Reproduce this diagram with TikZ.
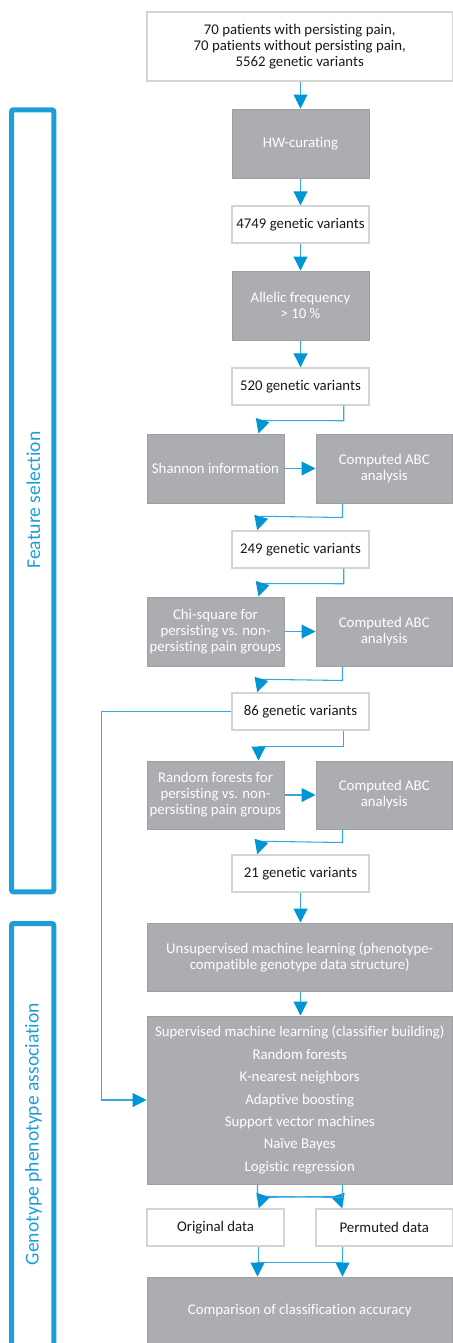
\documentclass[tikz,border=0pt]{standalone}
\usepackage{fontspec}
\setmainfont{Carlito}[Ligatures=NoCommon]
\usetikzlibrary{calc,arrows.meta}
\definecolor{bracketblue}{RGB}{30,158,216}
\definecolor{arrowblue}{RGB}{0,150,214}
\definecolor{lineblue}{RGB}{50,170,225}
\definecolor{boxgray}{RGB}{172,173,176}
\definecolor{boxgrayedge}{RGB}{158,159,162}
\definecolor{wedge}{RGB}{212,212,212}
\definecolor{txt}{RGB}{25,25,25}
\begin{document}
\begin{tikzpicture}[x=0.75pt,y=-0.75pt,
  sz/.style 2 args={minimum width=#1*0.75pt, minimum height=#2*0.75pt},
  wbox/.style={fill=white, draw=wedge, line width=1.1pt, text=txt, inner sep=0pt, align=center, font=\fontsize{11.1}{12}\selectfont},
  gbox/.style={fill=boxgray, draw=boxgrayedge, line width=0.75pt, text=white, inner sep=0pt, align=center, font=\fontsize{11.1}{12}\selectfont},
  conn/.style={draw=lineblue, line width=0.8pt, -{Triangle[length=10.5pt,width=10.5pt,color=arrowblue]}},
  sidelabel/.style={rotate=90, text=bracketblue, inner sep=0pt, font=\fontsize{14.7}{16}\selectfont},
  brk/.style={draw=bracketblue, line width=3.75pt, rounded corners=1.5pt}]
\path[use as bounding box] (0,0) rectangle (453,1343);
\clip (0,0) rectangle (453,1343);
\fill[white] (0,0) rectangle (453,1343);

% brackets and side labels
\draw[brk] (11.5,109.8) rectangle (53.8,891.8);
\draw[brk] (11.5,923.5) rectangle (53.8,1380);
\node[sidelabel] (fs) at (33.4,500) {Feature selection};
\node[sidelabel] (gpa) at (33.4,1134) {Genotype phenotype association};

% boxes
\node[wbox, sz={305.5}{69}] (top) at (299.75,46.5) {70 patients with persisting pain,\\70 patients without persisting pain,\\5562 genetic variants};
\node[gbox, sz={137}{69}] (hw) at (300.5,143.5) {HW-curating};
\node[wbox, sz={137}{37}] (v4749) at (300.5,224.5) {4749 genetic variants};
\node[gbox, sz={137}{69}] (allelic) at (300.5,305.5) {Allelic frequency\\> 10 \%};
\node[wbox, sz={137}{37}] (v520) at (300.5,386.5) {520 genetic variants};
\node[gbox, sz={137}{69}] (shannon) at (215.5,468.5) {Shannon information};
\node[gbox, sz={136.5}{69}] (abc1) at (384.25,468.5) {Computed ABC\\analysis};
\node[wbox, sz={137}{37}] (v249) at (300.5,549.5) {249 genetic variants};
\node[gbox, sz={137}{69}] (chi) at (215.5,631.5) {Chi-square for\\persisting vs. non-\\persisting pain groups};
\node[gbox, sz={136.5}{69}] (abc2) at (384.25,631.5) {Computed ABC\\analysis};
\node[wbox, sz={137}{37}] (v86) at (300.5,711.5) {86 genetic variants};
\node[gbox, sz={137}{68}] (rf) at (215.5,795) {Random forests for\\persisting vs. non-\\persisting pain groups};
\node[gbox, sz={136.5}{68}] (abc3) at (384.25,795) {Computed ABC\\analysis};
\node[wbox, sz={137}{37}] (v21) at (300.5,873.5) {21 genetic variants};
\node[gbox, sz={305.5}{68}] (unsup) at (299.75,957) {Unsupervised machine learning (phenotype-\\compatible genotype data structure)};
\node[gbox, sz={305.5}{168}, font=\fontsize{11.1}{16.8}\selectfont] (sup) at (299.75,1100) {Supervised machine learning (classifier building)\\Random forests\\K-nearest neighbors\\Adaptive boosting\\Support vector machines\\Naïve Bayes\\Logistic regression};
\node[wbox, sz={137}{37}] (orig) at (215.5,1227.5) {Original data};
\node[wbox, sz={136.5}{37}] (perm) at (384.25,1227.5) {Permuted data};
\node[gbox, sz={305.5}{68}] (comp) at (299.75,1311) {Comparison of classification accuracy};

% connectors
\draw[conn] (top.south -| hw.north) -- (hw.north);
\draw[conn] (hw.south) -- (v4749.north);
\draw[conn] (v4749.south) -- (allelic.north);
\draw[conn] (allelic.south) -- (v520.north);
\draw[conn] ($(v520.south east)+(-26,0)$) -- ++(0,15) -- ($(shannon.north east)+(-22,-13)$) -- ($(shannon.north east)+(-26,0)$);
\draw[conn] (shannon.east) -- (abc1.west);
\draw[conn] ($(abc1.south west)+(27,0)$) -- ++(0,14) -- ($(v249.north west)+(30,-14)$) -- ($(v249.north west)+(26,0)$);
\draw[conn] ($(v249.south east)+(-26,0)$) -- ++(0,15) -- ($(chi.north east)+(-22,-13)$) -- ($(chi.north east)+(-26,0)$);
\draw[conn] (chi.east) -- (abc2.west);
\draw[conn] ($(abc2.south west)+(27,0)$) -- ++(0,14) -- ($(v86.north west)+(30,-13)$) -- ($(v86.north west)+(26,0)$);
\draw[conn] ($(v86.south east)+(-26,0)$) -- ++(0,16) -| ($(rf.north east)+(-26,0)$);
\draw[conn] (rf.east) -- (abc3.west);
\draw[conn] ($(abc3.south west)+(27,0)$) -- ++(0,13) -- ($(v21.north west)+(30,-13)$) -- ($(v21.north west)+(26,0)$);
\draw[conn] (v21.south) -- (v21.south |- unsup.north);
\draw[conn] (unsup.south -| v21.south) -- (sup.north -| v21.south);
\draw[conn] (v86.west) -- ++(-130,0) |- (sup.west);
\draw[conn] ($(sup.south west)+(111,0)$) -- ++(0,13) -- ($(perm.north west)+(23,-12)$) -- ($(perm.north west)+(27,0)$);
\draw[conn] ($(sup.south west)+(196,0)$) -- ++(0,13) -- ($(orig.north east)+(-22,-12)$) -- ($(orig.north east)+(-26,0)$);
\draw[conn] ($(orig.south east)+(-26,0)$) -- ++(0,16) -| ($(comp.north west)+(196,0)$);
\draw[conn] ($(perm.south west)+(27,0)$) -- ++(0,16) -| ($(comp.north west)+(111,0)$);
\end{tikzpicture}
\end{document}
